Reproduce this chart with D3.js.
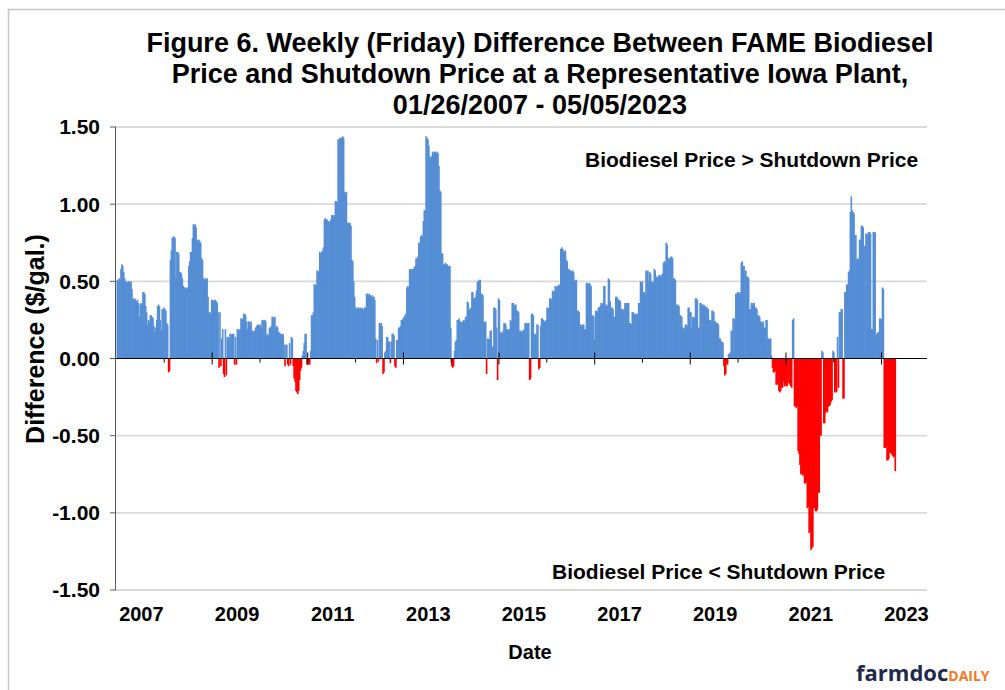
<!DOCTYPE html>
<html>
<head>
<meta charset="utf-8">
<script src="https://cdn.jsdelivr.net/npm/d3@7"></script>
<style>
  body { margin: 0; background: #ffffff; }
  svg text { font-family: "Liberation Sans", Arial, sans-serif; }
</style>
</head>
<body>
<div id="chart"></div>
<script>
// weekly (Friday) values, $/gal, one array per calendar year
const w2007 = [0.51,0.50,0.52,0.51,0.58,0.61,0.60,0.56,0.52,0.50,0.50,0.49,0.50,0.50,0.49,0.50,0.45,0.39,0.38,0.39,0.38,0.37,0.38,0.36,0.27,0.35,0.36,0.35,0.43,0.43,0.42,0.34,0.30,0.22,0.25,0.24,0.28,0.28,0.27,0.26,0.21,0.17,0.20,0.25,0.34,0.35,0.34,0.25,0.18];
const w2008 = [0.32,0.32,0.33,0.32,0.31,0.23,0.22,-0.09,-0.08,0.64,0.70,0.78,0.79,0.79,0.78,0.52,0.69,0.69,0.68,0.56,0.56,0.55,0.52,0.47,0.46,0.46,0.45,0.46,0.46,0.60,0.63,0.69,0.69,0.78,0.87,0.86,0.87,0.85,0.77,0.76,0.77,0.76,0.75,0.65,0.64,0.52,0.51,0.52,0.51,0.52,0.40,0.30];
const w2009 = [0.30,0.29,0.38,0.38,0.37,0.38,0.38,0.37,0.36,0.30,-0.06,0.30,-0.05,0.13,0.19,-0.10,-0.12,0.19,-0.11,0.14,0.14,0.13,0.16,0.16,0.15,0.16,0.16,-0.04,0.14,-0.04,0.19,0.19,0.18,0.19,0.26,0.26,0.25,0.29,0.29,0.28,0.24,0.19,0.24,0.24,0.23,0.24,0.18,0.18,0.17,0.18,0.20,0.21];
const w2010 = [0.22,0.22,0.21,0.22,0.20,0.25,0.25,0.24,0.25,0.24,0.15,0.16,0.15,0.20,0.20,0.21,0.27,0.27,0.26,0.27,0.20,0.21,0.20,0.17,0.17,0.16,0.16,0.15,0.16,0.09,-0.05,0.09,0.09,-0.04,-0.05,0.10,-0.04,0.14,0.13,-0.05,-0.13,-0.15,-0.21,-0.22,-0.23,-0.21,-0.14,-0.08,-0.06,0.02,0.05,0.10,0.16];
const w2011 = [0.16,-0.04,-0.04,-0.03,-0.04,0.05,0.28,0.28,0.30,0.48,0.48,0.47,0.57,0.57,0.56,0.69,0.68,0.69,0.70,0.72,0.90,0.91,0.90,0.90,0.89,0.89,0.88,0.90,0.93,0.93,0.92,0.93,1.02,1.02,1.01,1.42,1.42,1.43,1.43,1.43,1.44,1.43,1.08,1.07,1.08,0.88,0.88,0.87,0.88,0.86,0.64,0.63];
const w2012 = [0.50,0.40,0.33,0.32,0.33,0.33,0.32,0.33,0.32,0.33,0.32,0.32,0.33,0.33,0.42,0.42,0.41,0.42,0.41,0.40,0.41,0.40,0.40,0.38,0.13,-0.03,0.12,-0.02,0.23,0.22,0.23,0.21,-0.10,-0.09,0.04,0.05,0.14,0.14,0.11,0.11,-0.03,0.11,0.16,0.16,0.15,-0.05,-0.06,0.12,0.12,0.20,0.20,0.21];
const w2013 = [0.25,0.25,0.26,0.27,0.28,0.29,0.46,0.47,0.46,0.58,0.58,0.57,0.58,0.58,0.59,0.60,0.65,0.65,0.66,0.75,0.75,0.79,0.80,0.79,0.89,0.96,0.96,1.44,1.43,1.42,1.38,1.31,1.30,1.31,1.34,1.33,1.34,1.34,1.33,1.34,1.33,1.25,1.09,1.08,0.68,0.68,0.61,0.61,0.62,0.61,0.61,0.60];
const w2014 = [0.60,0.60,0.20,-0.05,-0.06,-0.05,0.05,0.11,0.12,0.25,0.25,0.26,0.24,0.24,0.23,0.24,0.25,0.24,0.27,0.27,0.37,0.36,0.32,0.32,0.33,0.43,0.43,0.39,0.39,0.40,0.44,0.50,0.50,0.51,0.51,0.42,0.42,0.41,0.24,0.23,0.24,-0.10,0.13,0.13,0.12,0.18,0.18,0.07,0.08,0.33,0.33,0.32];
const w2015 = [0.20,-0.14,0.39,0.38,0.17,0.17,0.16,0.18,0.23,0.23,0.22,0.19,0.19,0.18,0.19,0.25,0.24,0.36,0.36,0.35,0.34,0.35,0.31,0.31,0.30,0.18,0.18,0.17,0.18,0.18,0.19,0.23,0.23,0.22,0.23,0.23,-0.14,-0.13,0.29,0.29,0.28,0.16,0.16,0.15,0.22,0.22,-0.07,-0.06,0.21,0.26,0.26,0.25];
const w2016 = [0.24,0.24,0.25,0.33,0.33,0.32,0.39,0.39,0.38,0.44,0.43,0.44,0.47,0.46,0.47,0.47,0.48,0.47,0.71,0.72,0.71,0.70,0.69,0.70,0.64,0.63,0.58,0.58,0.57,0.57,0.56,0.57,0.56,0.51,0.50,0.51,0.31,0.31,0.30,0.22,0.22,0.21,0.22,0.22,0.19,0.19,0.49,0.49,0.48,0.49,0.48,0.47,0.28];
const w2017 = [0.28,0.27,0.12,0.31,0.31,0.30,0.33,0.33,0.34,0.36,0.36,0.35,0.47,0.47,0.34,0.35,0.34,0.52,0.51,0.37,0.33,0.33,0.32,0.27,0.27,0.40,0.40,0.39,0.38,0.38,0.37,0.32,0.32,0.31,0.32,0.36,0.36,0.35,0.36,0.36,0.23,0.23,0.22,0.30,0.30,0.29,0.29,0.29,0.28,0.29,0.36,0.36];
const w2018 = [0.50,0.49,0.50,0.43,0.43,0.42,0.57,0.56,0.57,0.50,0.56,0.55,0.50,0.49,0.50,0.58,0.57,0.53,0.53,0.52,0.54,0.54,0.53,0.54,0.55,0.62,0.63,0.62,0.75,0.74,0.65,0.65,0.64,0.66,0.66,0.65,0.52,0.52,0.51,0.35,0.34,0.35,0.34,0.28,0.28,0.27,0.20,0.20,0.19,0.22,0.22,0.21];
const w2019 = [0.33,0.33,0.30,0.30,0.20,0.27,0.27,0.26,0.39,0.39,0.38,0.20,0.20,0.36,0.36,0.35,0.34,0.35,0.34,0.34,0.33,0.33,0.32,0.25,0.25,0.24,0.31,0.31,0.30,0.24,0.24,0.23,0.23,0.22,0.13,0.13,0.11,0.11,0.10,-0.05,-0.11,-0.10,-0.03,-0.04,0.03,0.03,0.04,0.18,0.18,0.26,0.26,0.25];
const w2020 = [0.42,0.42,0.43,0.43,0.42,0.43,0.62,0.63,0.60,0.60,0.57,0.57,0.53,0.53,0.52,0.32,0.32,0.36,0.36,0.35,0.36,0.33,0.33,0.32,0.28,0.28,0.27,0.24,0.24,0.23,0.24,0.20,0.20,0.25,0.25,0.13,0.13,0.12,0.13,0.02,-0.06,-0.09,-0.09,-0.08,-0.17,-0.17,-0.16,-0.21,-0.22,-0.21,-0.19,-0.19];
const w2021 = [-0.15,-0.18,-0.17,-0.18,-0.18,-0.15,-0.16,-0.17,-0.18,-0.19,0.25,0.26,-0.31,-0.31,-0.32,-0.31,-0.60,-0.62,-0.69,-0.75,-0.75,-0.76,-0.75,-0.81,-0.81,-0.80,-0.97,-0.96,-1.13,-1.12,-1.24,-1.23,-1.22,-0.97,-0.97,-0.99,-0.99,-0.98,-0.87,-0.87,-0.50,-0.50,0.05,0.04,-0.42,-0.42,-0.35,-0.34,-0.35,-0.31,-0.31,-0.30,-0.28];
const w2022 = [-0.27,0.05,0.04,-0.22,-0.21,-0.22,0.14,-0.19,0.30,0.30,0.32,0.32,-0.26,-0.26,0.43,0.43,0.48,0.48,0.56,0.57,0.95,1.05,0.96,0.95,0.94,0.80,0.80,0.64,0.65,0.64,0.77,0.77,0.86,0.86,0.85,0.73,0.73,0.81,0.81,0.80,0.82,0.82,0.81,0.19,0.19,0.82,0.81,0.82,0.16,0.16,0.17,0.17];
const w2023 = [0.26,0.26,0.25,0.46,0.45,-0.58,-0.58,-0.57,-0.66,-0.66,-0.65,-0.61,-0.61,-0.62,-0.63,-0.64,-0.63,-0.73];

const weeklyByYear = [w2007, w2008, w2009, w2010, w2011, w2012, w2013, w2014, w2015, w2016,
                      w2017, w2018, w2019, w2020, w2021, w2022, w2023];

const yTicks = [-1.5, -1.0, -0.5, 0, 0.5, 1.0, 1.5];
const yTickLabels = ["-1.50", "-1.00", "-0.50", "0.00", "0.50", "1.00", "1.50"];
const xLabelYears = [2007, 2009, 2011, 2013, 2015, 2017, 2019, 2021, 2023];
const tickYears = d3.range(2008, 2024);

const titleLines = [
    "Figure 6. Weekly (Friday) Difference Between FAME Biodiesel",
    "Price and Shutdown Price at a Representative Iowa Plant,",
    "01/26/2007 - 05/05/2023"
];

const width = 1005, height = 690;
const plot = { left: 116, right: 927, top: 127, bottom: 590 };

const svg = d3.select("#chart")
    .append("svg")
    .attr("width", width)
    .attr("height", height);

// outer frame of the chart area
svg.append("rect")
    .attr("x", 8.5).attr("y", 9.5)
    .attr("width", 1010).attr("height", 700)
    .attr("fill", "#ffffff")
    .attr("stroke", "#c6c6c6")
    .attr("stroke-width", 1.5);

const start = new Date(2007, 0, 26);
const end = new Date(2023, 4, 5);
const dates = d3.timeFriday.range(start, d3.timeDay.offset(end, 1));
const values = weeklyByYear.flat();
const data = dates.slice(0, values.length).map((d, i) => ({ date: d, value: values[i] }));

const x = d3.scaleTime()
    .domain([new Date(2007, 0, 26), new Date(2024, 0, 26)])
    .range([116.5, 929.3]);

const y = d3.scaleLinear()
    .domain([-1.5, 1.5])
    .range([plot.bottom, plot.top]);

// gridlines
svg.append("g")
    .selectAll("line")
    .data(yTicks.filter(v => v !== 0))
    .enter().append("line")
    .attr("x1", plot.left).attr("x2", plot.right)
    .attr("y1", d => y(d)).attr("y2", d => y(d))
    .attr("stroke", "#d9d9d9")
    .attr("stroke-width", 1.8);

// bars
svg.append("g")
    .selectAll("rect")
    .data(data)
    .enter().append("rect")
    .attr("x", d => x(d.date))
    .attr("width", d => x(d3.timeDay.offset(d.date, 7)) - x(d.date) + 0.7)
    .attr("y", d => y(Math.max(0, d.value)))
    .attr("height", d => Math.abs(y(d.value) - y(0)))
    .attr("fill", d => d.value >= 0 ? "#558ed5" : "#ff0000");

// y axis
const yAxis = svg.append("g");
yAxis.append("line")
    .attr("x1", plot.left - 0.5).attr("x2", plot.left - 0.5)
    .attr("y1", plot.top).attr("y2", plot.bottom)
    .attr("stroke", "#595959").attr("stroke-width", 1);
yAxis.selectAll(".ytick")
    .data(yTicks)
    .enter().append("line")
    .attr("x1", plot.left - 6).attr("x2", plot.left)
    .attr("y1", d => y(d)).attr("y2", d => y(d))
    .attr("stroke", "#595959");
yAxis.selectAll(".ylab")
    .data(yTicks)
    .enter().append("text")
    .attr("x", 100)
    .attr("y", d => y(d))
    .attr("dy", "0.35em")
    .attr("text-anchor", "end")
    .style("font-size", "21px")
    .style("font-weight", "bold")
    .text((d, i) => yTickLabels[i]);

// x axis at zero
const y0 = y(0);
svg.append("line")
    .attr("x1", plot.left).attr("x2", plot.right)
    .attr("y1", y0).attr("y2", y0)
    .attr("stroke", "#000000").attr("stroke-width", 1);

svg.append("g")
    .selectAll("line")
    .data(tickYears)
    .enter().append("line")
    .attr("x1", d => x(new Date(d, 0, 26))).attr("x2", d => x(new Date(d, 0, 26)))
    .attr("y1", d => d % 2 === 1 ? y0 - 6 : y0)
    .attr("y2", d => d % 2 === 1 ? y0 + 6 : y0 + 4)
    .attr("stroke", "#000000");

svg.append("g")
    .selectAll("text")
    .data(xLabelYears)
    .enter().append("text")
    .attr("x", d => (x(new Date(d, 0, 26)) + x(new Date(d + 1, 0, 26))) / 2 + 1)
    .attr("y", 621)
    .attr("text-anchor", "middle")
    .style("font-size", "20px")
    .style("font-weight", "bold")
    .text(d => d);

// axis titles
svg.append("text")
    .attr("x", 530).attr("y", 659)
    .attr("text-anchor", "middle")
    .style("font-size", "20px")
    .style("font-weight", "bold")
    .text("Date");

svg.append("text")
    .attr("transform", "translate(44, 339) rotate(-90)")
    .attr("text-anchor", "middle")
    .style("font-size", "25px")
    .style("font-weight", "bold")
    .text("Difference ($/gal.)");

// title
svg.append("g")
    .selectAll("text")
    .data(titleLines)
    .enter().append("text")
    .attr("x", 540)
    .attr("y", (d, i) => 52 + i * 31)
    .attr("text-anchor", "middle")
    .style("font-size", "27px")
    .style("font-weight", "bold")
    .text(d => d);

// annotations
svg.append("text")
    .attr("x", 585).attr("y", 167)
    .style("font-size", "21px")
    .style("font-weight", "bold")
    .text("Biodiesel Price > Shutdown Price");

svg.append("text")
    .attr("x", 552).attr("y", 579)
    .style("font-size", "21px")
    .style("font-weight", "bold")
    .text("Biodiesel Price < Shutdown Price");

// logo
const logo = svg.append("text")
    .attr("x", 856).attr("y", 681)
    .style("font-family", "'Open Sans', sans-serif")
    .style("font-weight", "bold");
logo.append("tspan")
    .attr("fill", "#1d2a4b")
    .style("font-size", "22px")
    .text("farmdoc");
logo.append("tspan")
    .attr("fill", "#f47920")
    .style("font-size", "14px")
    .text("DAILY");
</script>
</body>
</html>
